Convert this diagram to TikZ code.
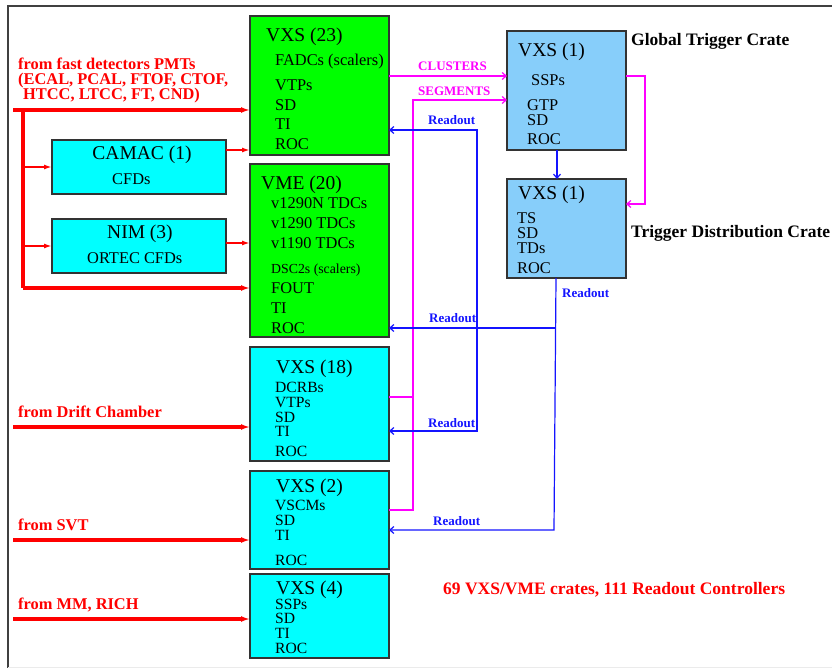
\documentclass[tikz,border=0pt]{standalone}
\usepackage{fontspec}
\setmainfont{Liberation Serif}
\usetikzlibrary{arrows.meta}
\definecolor{crgreen}{RGB}{0,255,0}
\definecolor{crcyan}{RGB}{0,255,255}
\definecolor{crsky}{RGB}{135,206,250}
\definecolor{trgmag}{RGB}{255,0,255}
\definecolor{rdblue}{RGB}{20,20,255}
\begin{document}
\begin{tikzpicture}[x=1pt,y=-1pt,
 crate/.style={draw=black!80,line width=1.2pt,inner sep=0pt,outer sep=0pt},
 title/.style={anchor=base west,inner sep=0pt,font=\fontsize{19.5}{21}\selectfont},
 item/.style={anchor=base west,inner sep=0pt,font=\fontsize{16.4}{18}\selectfont},
 tight/.style={anchor=base west,inner sep=0pt,font=\fontsize{15.6}{17}\selectfont},
 small/.style={anchor=base west,inner sep=0pt,font=\fontsize{13.8}{15}\selectfont},
 src/.style={anchor=base west,inner sep=0pt,text=red,font=\fontsize{16.4}{18}\selectfont\bfseries},
 tag/.style={anchor=base west,inner sep=0pt,font=\fontsize{13}{15}\selectfont\bfseries},
 feed/.style={red,line width=4pt,-{Latex[length=9pt,width=6pt]}},
 branch/.style={red,line width=2pt,-{Latex[length=8pt,width=5pt]}},
 trig/.style={trgmag,line width=1.2pt},
 rd/.style={rdblue,line width=1.2pt}]
 \useasboundingbox (0,0) rectangle (832,668);
 \draw[black!75,line width=1.2pt] (8,668) -- (8,6) -- (832,6);
 \draw[black!8] (8,667) -- (832,667);
 % crates
 \node[crate,fill=crgreen,minimum width=139pt,minimum height=139pt] (vxs23) at (319.5,85.5) {};
 \node[crate,fill=crgreen,minimum width=139pt,minimum height=173pt] (vme) at (319.5,250.5) {};
 \node[crate,fill=crcyan,minimum width=174pt,minimum height=54pt] (camac) at (139,167) {};
 \node[crate,fill=crcyan,minimum width=174pt,minimum height=54pt] (nim) at (139,246) {};
 \node[crate,fill=crcyan,minimum width=139pt,minimum height=114pt] (vxs18) at (319.5,404) {};
 \node[crate,fill=crcyan,minimum width=139pt,minimum height=98pt] (vxs2) at (319.5,520) {};
 \node[crate,fill=crcyan,minimum width=139pt,minimum height=84pt] (vxs4) at (319.5,616) {};
 \node[crate,fill=crsky,minimum width=119pt,minimum height=119pt] (gtc) at (566.5,90.5) {};
 \node[crate,fill=crsky,minimum width=119pt,minimum height=99pt] (tdc) at (566.5,228.5) {};
 % crate contents
 \node[title] (t23) at (266,42) {VXS (23)};
 \node[item] (fadc) at (275,66) {FADCs (scalers)};
 \node[item] (vtp23) at (275,91) {VTPs};
 \node[item] (sd23) at (275,111) {SD};
 \node[item] (ti23) at (275,130) {TI};
 \node[item] (roc23) at (275,150) {ROC};
 \node[title,anchor=base] (tcam) at (142,160) {CAMAC (1)};
 \node[item] (cfd) at (112,185) {CFDs};
 \node[title] (tnim) at (107,239) {NIM (3)};
 \node[item] (ortec) at (87,263) {ORTEC CFDs};
 \node[title] (tvme) at (261,190) {VME (20)};
 \node[item] (tdcn) at (271,209) {v1290N TDCs};
 \node[item] (tdca) at (271,229) {v1290 TDCs};
 \node[item] (tdcb) at (271,249) {v1190 TDCs};
 \node[small] (dsc) at (271,273) {DSC2s (scalers)};
 \node[item] (fout) at (271,293) {FOUT};
 \node[item] (tivme) at (271,313) {TI};
 \node[item] (rocvme) at (271,333) {ROC};
 \node[title] (t18) at (276,373) {VXS (18)};
 \node[tight] (dcrb) at (275,392) {DCRBs};
 \node[tight] (vtp18) at (275,407) {VTPs};
 \node[tight] (sd18) at (275,422) {SD};
 \node[tight] (ti18) at (275,436.5) {TI};
 \node[tight] (roc18) at (275,456) {ROC};
 \node[title] (t2) at (276,492) {VXS (2)};
 \node[tight] (vscm) at (275,510) {VSCMs};
 \node[tight] (sd2) at (275,525) {SD};
 \node[tight] (ti2) at (275,540) {TI};
 \node[tight] (roc2) at (275,565) {ROC};
 \node[title] (t4) at (276,594) {VXS (4)};
 \node[tight] (ssp4) at (275,609.5) {SSPs};
 \node[tight] (sd4) at (275,623.5) {SD};
 \node[tight] (ti4) at (275,638) {TI};
 \node[tight] (roc4) at (275,653) {ROC};
 \node[title] (tgt) at (518,57) {VXS (1)};
 \node[item] (sspg) at (531,86) {SSPs};
 \node[item] (gtp) at (527,111) {GTP};
 \node[item] (sdg) at (527,126) {SD};
 \node[item] (rocg) at (527,145) {ROC};
 \node[title] (ttd) at (518,200) {VXS (1)};
 \node[item] (ts) at (517,224) {TS};
 \node[item] (sdt) at (517,239) {SD};
 \node[item] (tds) at (517,254) {TDs};
 \node[item] (roct) at (517,273) {ROC};
 % side labels
 \node[tag,font=\fontsize{17.5}{19}\selectfont\bfseries] (lgt) at (631,46) {Global Trigger Crate};
 \node[tag,font=\fontsize{17.5}{19}\selectfont\bfseries] (ltd) at (631,238) {Trigger Distribution Crate};
 \node[tag,text=red,font=\fontsize{17.5}{19}\selectfont\bfseries] (sum) at (443,594) {69 VXS/VME crates, 111 Readout Controllers};
 \node[src] (pmt1) at (18,70) {from fast detectors PMTs};
 \node[src] (pmt2) at (18,85) {(ECAL, PCAL, FTOF, CTOF,};
 \node[src] (pmt3) at (23,100) {HTCC, LTCC, FT, CND)};
 \node[src] (ldc) at (18,417) {from Drift Chamber};
 \node[src] (lsvt) at (18,530) {from SVT};
 \node[src] (lmm) at (18,609) {from MM, RICH};
 % detector signals
 \coordinate (fd) at (13,110);
 \coordinate (fdj) at (23,110);
 \coordinate (fdb) at (23,288);
 \draw[feed] (fd) -- (fd -| vxs23.west);
 \draw[feed,-] (fdj) -- (fdb);
 \draw[feed] (fdb) -- (fdb -| vme.west);
 \draw[branch] (fdj |- camac.west) -- (camac.west);
 \draw[branch] (fdj |- nim.west) -- (nim.west);
 \draw[branch,line width=2.4pt] (camac.east |- 0,150) -- (vxs23.west |- 0,150);
 \draw[branch,line width=2.4pt] (nim.east |- 0,243) -- (vme.west |- 0,243);
 \coordinate (dc) at (13,427);
 \coordinate (svt) at (13,540);
 \coordinate (mm) at (13,619);
 \draw[feed] (dc) -- (dc -| vxs18.west);
 \draw[feed] (svt) -- (svt -| vxs2.west);
 \draw[feed] (mm) -- (mm -| vxs4.west);
 % trigger links
 \draw[trig,-{Straight Barb[length=4pt,width=7pt]}] (vxs23.east |- 0,76) -- (gtc.west |- 0,76);
 \draw[trig,-{Straight Barb[length=4pt,width=7pt]}] (vxs18.east |- 0,397) -| (413,100) -- (gtc.west |- 0,100);
 \draw[trig] (vxs2.east |- 0,510) -| (413,397);
 \draw[trig,-{Straight Barb[length=4pt,width=7pt]}] (gtc.east |- 0,76) -- (645,76) |- (tdc.east |- 0,204);
 \node[tag,text=trgmag] (lcl) at (418,71) {CLUSTERS};
 \node[tag,text=trgmag] (lsg) at (418,96) {SEGMENTS};
 % readout
 \draw[rd,{Straight Barb[length=4pt,width=7pt]}-{Straight Barb[length=4pt,width=7pt]}]
   (vxs23.east |- 0,130) -| (477,431) -- (vxs18.east |- 0,431);
 \draw[rd,-{Straight Barb[length=4pt,width=7pt]}] (gtc.south -| 557,0) -- (tdc.north -| 557,0);
 \draw[rd,-{Straight Barb[length=4pt,width=7pt]}] (tdc.south -| 556,0) -- (554,530) -- (vxs2.east |- 0,530);
 \draw[rd,-{Straight Barb[length=4pt,width=7pt]}] (555.5,328) -- (vme.east |- 0,328);
 \node[tag,text=rdblue] (r1) at (428,125) {Readout};
 \node[tag,text=rdblue] (r2) at (429,322) {Readout};
 \node[tag,text=rdblue] (r3) at (428,427) {Readout};
 \node[tag,text=rdblue] (r4) at (433,525) {Readout};
 \node[tag,text=rdblue] (r5) at (562,297) {Readout};
\end{tikzpicture}
\end{document}
